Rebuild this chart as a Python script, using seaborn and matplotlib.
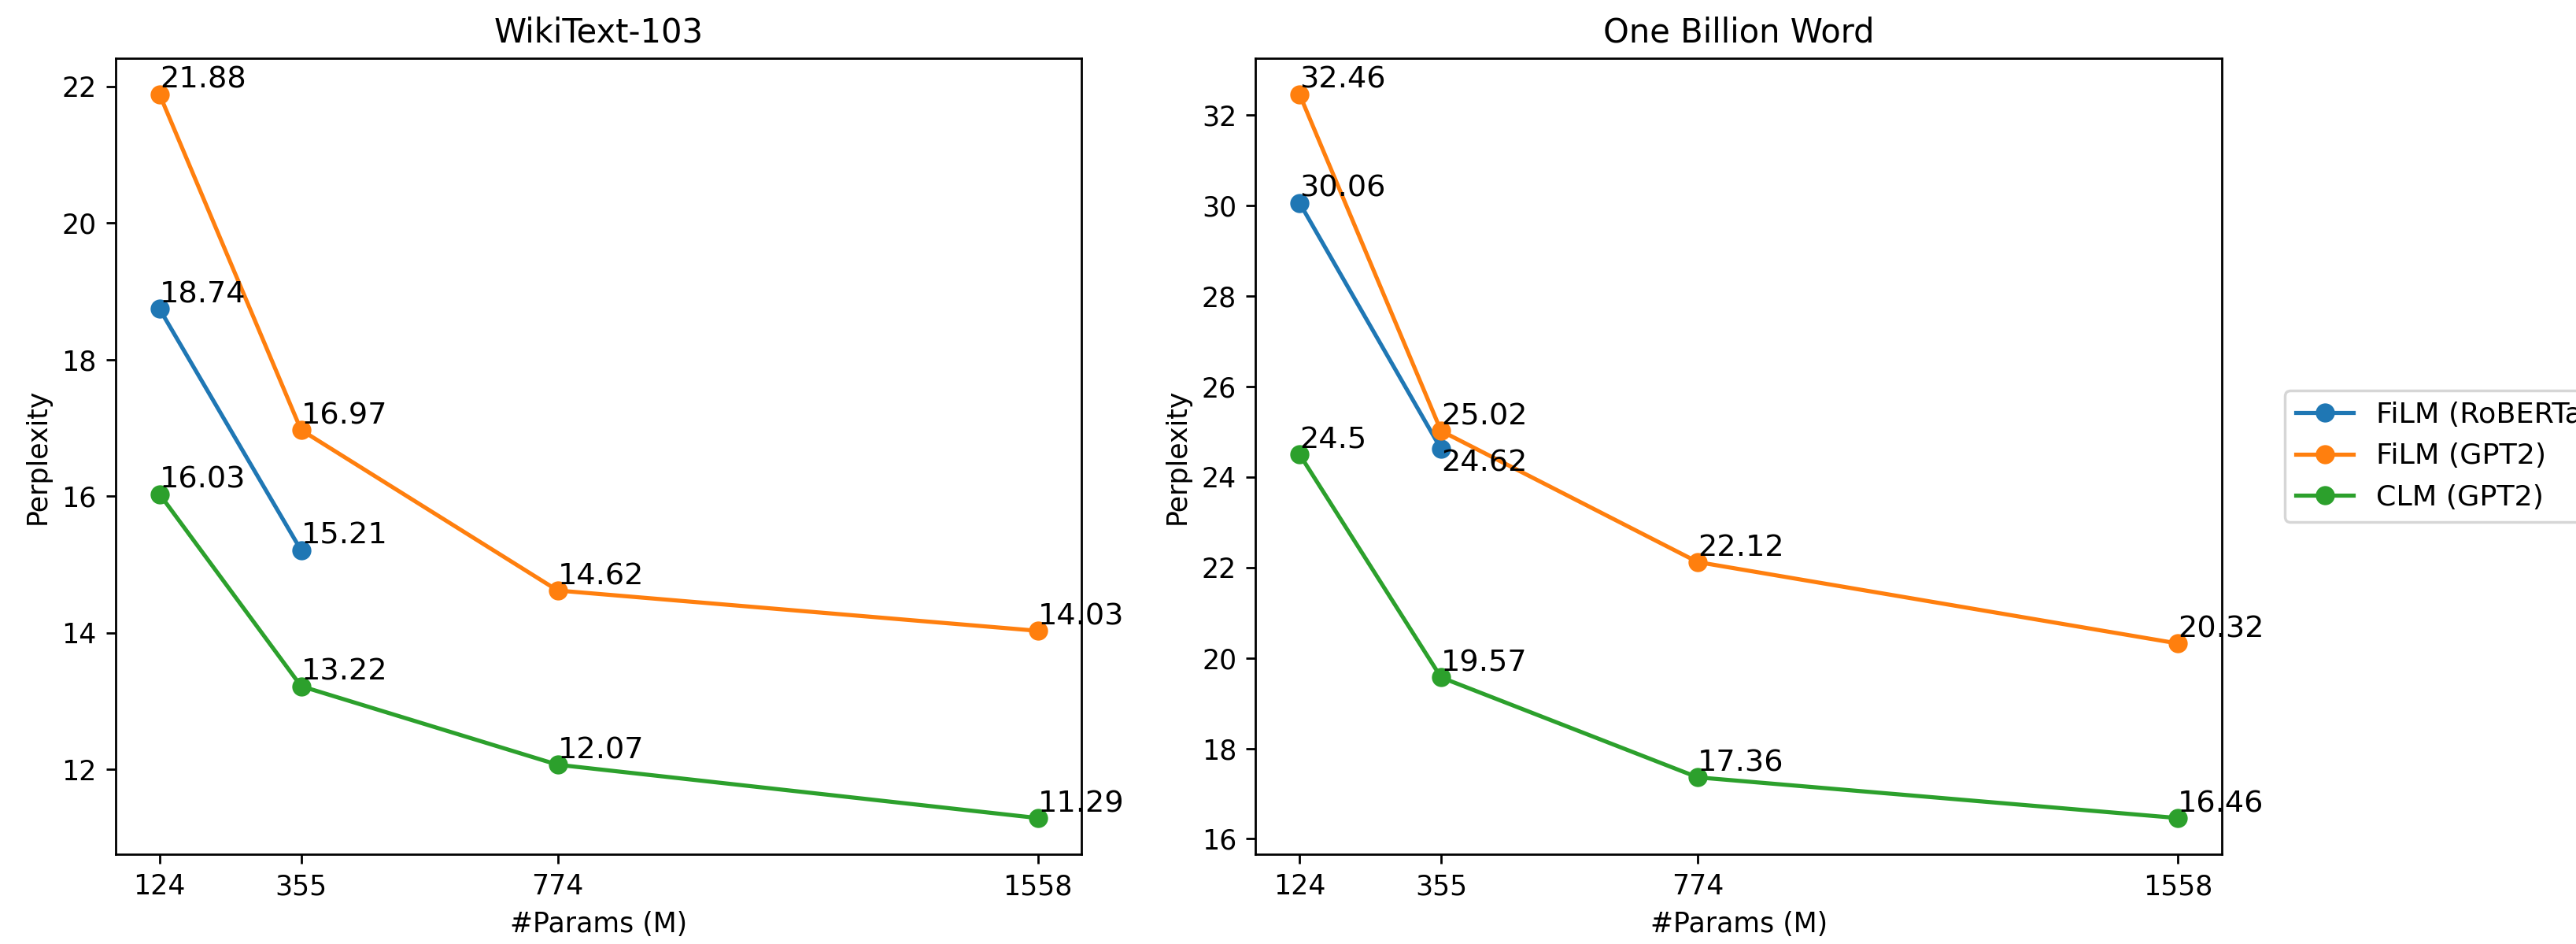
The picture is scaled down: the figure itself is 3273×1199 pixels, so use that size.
import numpy as np
import matplotlib
matplotlib.use("Agg")
import matplotlib.pyplot as plt
import seaborn as sns

# 模型参数量 (M)
params = [124, 355, 774, 1558]
series_names = ["FiLM (RoBERTa)", "FiLM (GPT2)", "CLM (GPT2)"]

# WikiText-103 困惑度
wiki_roberta = [18.74, 15.21]
wiki_film_gpt2 = [21.88, 16.97, 14.62, 14.03]
wiki_clm_gpt2 = [16.03, 13.22, 12.07, 11.29]

# One Billion Word 困惑度
obw_roberta = [30.06, 24.62]
obw_film_gpt2 = [32.46, 25.02, 22.12, 20.32]
obw_clm_gpt2 = [24.5, 19.57, 17.36, 16.46]

colors = sns.color_palette("tab10", 3)

DPI = 250
fig, axes = plt.subplots(1, 2, figsize=(3273 / DPI, 1199 / DPI), dpi=DPI)
fig.subplots_adjust(left=0.0449, right=0.8625, bottom=0.0951, top=0.9383, wspace=0.18)

panels = [
    ("WikiText-103", [wiki_roberta, wiki_film_gpt2, wiki_clm_gpt2]),
    ("One Billion Word", [obw_roberta, obw_film_gpt2, obw_clm_gpt2]),
]

for ax, (title, ys) in zip(axes, panels):
    for name, vals, c in zip(series_names, ys, colors):
        xs = params[:len(vals)]
        sns.lineplot(x=xs, y=vals, ax=ax, color=c, marker="o", markersize=6,
                     markeredgecolor=c, markeredgewidth=1, linewidth=1.5,
                     label=name)
        for x, y in zip(xs, vals):
            # 这个点和上面的橙色点挨得太近，标签放到下面
            va = "top" if (title == "One Billion Word" and name == "FiLM (RoBERTa)" and x == 355) else "bottom"
            ax.text(x, y, str(y), fontsize=11, ha="left", va=va)
    ax.set_xticks(params)
    ax.set_xticklabels([str(p) for p in params])
    ax.set_title(title, fontsize=12)
    ax.set_xlabel("#Params (M)")
    ax.set_ylabel("Perplexity")
    ax.legend_.remove()

axes[1].legend(loc="center left", bbox_to_anchor=(1.05, 0.5), fontsize=10.5)

fig.savefig("out.png", dpi=DPI)
